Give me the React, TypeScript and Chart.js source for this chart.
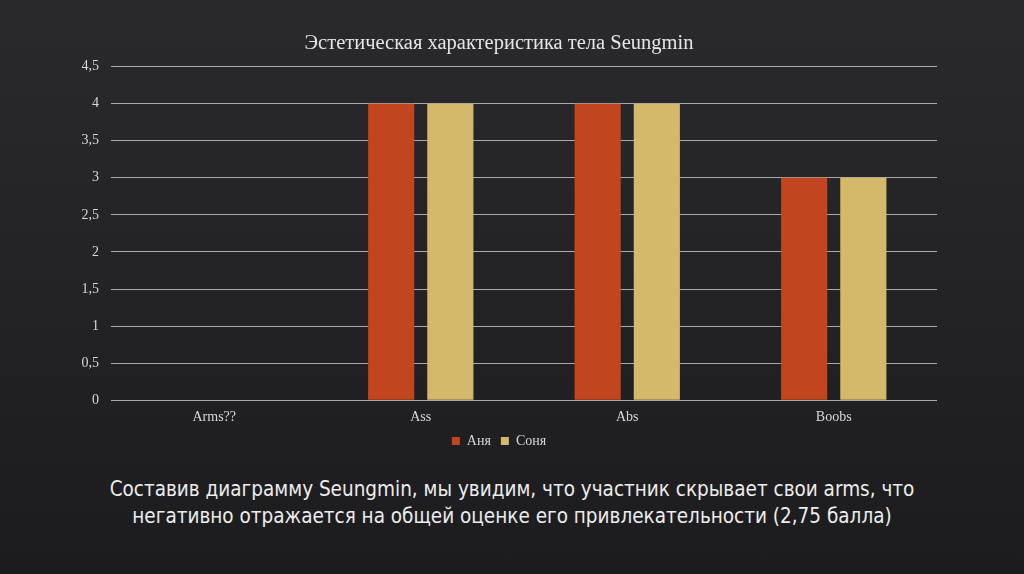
import React, { useEffect, useRef } from "react";
import { Chart, registerables } from "chart.js";

Chart.register(...registerables);

const categories = ["Arms??", "Ass", "Abs", "Boobs"];
const anyaValues = [0, 4, 4, 3];
const sonyaValues = [0, 4, 4, 3];
const seriesNames = ["Аня", "Соня"];
const chartTitle = "Эстетическая характеристика тела Seungmin";
const captionLines = [
  "Составив диаграмму Seungmin, мы увидим, что участник скрывает свои arms, что",
  "негативно отражается на общей оценке его привлекательности (2,75 балла)",
];

export default function App() {
  const canvasRef = useRef<HTMLCanvasElement | null>(null);

  useEffect(() => {
    document.body.style.margin = "0";
    const ctx = canvasRef.current;
    if (!ctx) return;
    const chart = new Chart(ctx, {
      type: "bar",
      data: {
        labels: categories,
        datasets: [
          {
            label: seriesNames[0],
            data: anyaValues,
            backgroundColor: "#C1461F",
            barPercentage: 0.78,
            categoryPercentage: 0.573,
          },
          {
            label: seriesNames[1],
            data: sonyaValues,
            backgroundColor: "#D4B96A",
            barPercentage: 0.78,
            categoryPercentage: 0.573,
          },
        ],
      },
      options: {
        animation: false,
        responsive: false,
        maintainAspectRatio: false,
        layout: { padding: { left: 61, right: 87, top: 0, bottom: 0 } },
        plugins: {
          title: {
            display: true,
            text: chartTitle,
            color: "#e6e6e6",
            font: { family: "'Liberation Serif', serif", size: 20.5, weight: "normal" },
            padding: { top: 31, bottom: 11 },
          },
          legend: {
            position: "bottom",
            labels: {
              color: "#d8d8d8",
              boxWidth: 8,
              boxHeight: 8,
              font: { family: "'Liberation Serif', serif", size: 14 },
              padding: 10,
            },
          },
          tooltip: { enabled: false },
        },
        scales: {
          x: {
            grid: { display: false },
            border: { display: false },
            afterFit: (scale: any) => {
              scale.height -= 3;
            },
            ticks: {
              color: "#d8d8d8",
              padding: 1,
              font: { family: "'Liberation Serif', serif", size: 14 },
            },
          },
          y: {
            min: 0,
            max: 4.5,
            afterFit: (scale: any) => {
              scale.width = 50;
            },
            grid: { color: "#a9a9a9", lineWidth: 1, drawTicks: false },
            border: { display: false },
            ticks: {
              stepSize: 0.5,
              color: "#d8d8d8",
              padding: 12,
              font: { family: "'Liberation Serif', serif", size: 14 },
              callback: (v: any) => String(v).replace(".", ","),
            },
          },
        },
      },
    });
    return () => chart.destroy();
  }, []);

  return (
    <div
      style={{
        position: "fixed",
        left: 0,
        top: 0,
        width: 1024,
        height: 574,
        background: "linear-gradient(180deg, #2a2a2d 0%, #232325 50%, #1c1c1e 100%)",
        overflow: "hidden",
      }}
    >
      <canvas
        ref={canvasRef}
        width={1024}
        height={458}
        style={{ position: "absolute", left: 0, top: 0, width: 1024, height: 458 }}
      />
      <div
        style={{
          position: "absolute",
          left: 0,
          top: 476,
          width: 1024,
          textAlign: "center",
          color: "#ececec",
          fontFamily: "'DejaVu Sans', sans-serif",
          fontStretch: "condensed",
          fontSize: 20.5,
          lineHeight: "27px",
        }}
      >
        {captionLines.map((l, i) => (
          <div key={i}>{l}</div>
        ))}
      </div>
    </div>
  );
}
